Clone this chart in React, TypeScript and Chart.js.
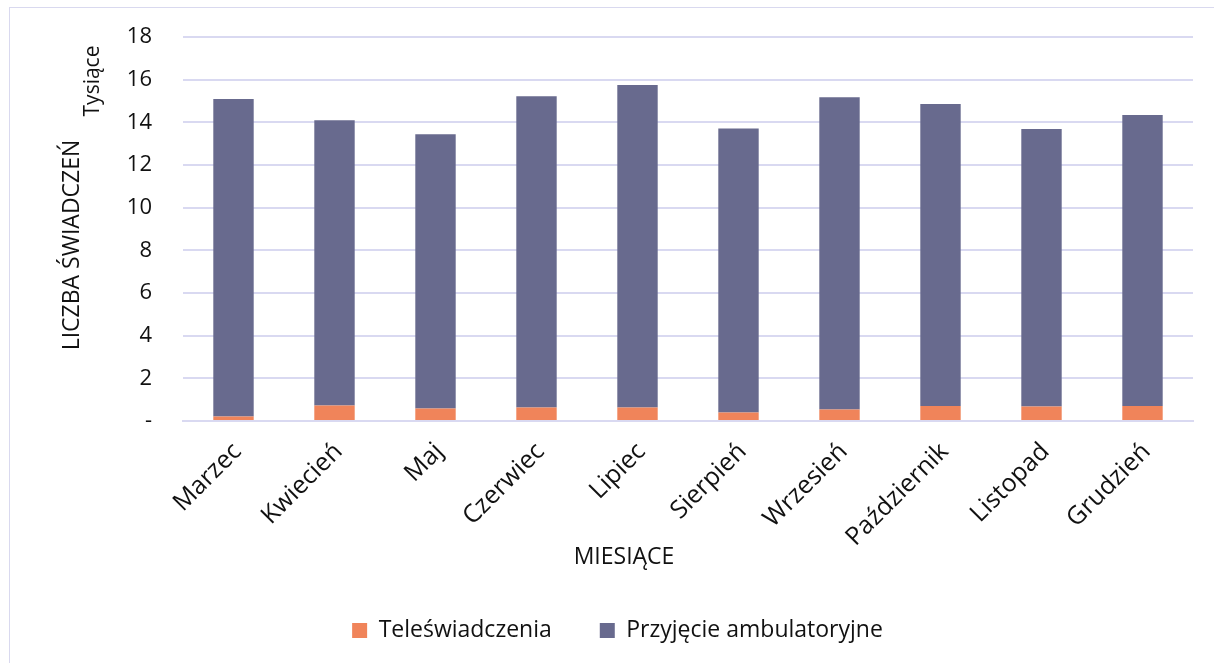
import React, { useEffect, useRef } from "react";
import { Chart, registerables } from "chart.js";

Chart.register(...registerables);

const months = [
  "Marzec",
  "Kwiecień",
  "Maj",
  "Czerwiec",
  "Lipiec",
  "Sierpień",
  "Wrzesień",
  "Październik",
  "Listopad",
  "Grudzień",
];

// values in thousands
const teleswiadczenia = [0.21, 0.73, 0.59, 0.63, 0.63, 0.4, 0.54, 0.7, 0.68, 0.7];
const przyjecieAmbulatoryjne = [14.89, 13.38, 12.86, 14.6, 15.13, 13.32, 14.64, 14.17, 13.01, 13.65];

const yMin = 0;
const yMax = 18;
const yStep = 2;
const zeroTickLabel = "-";

const FONT = '"Open Sans", sans-serif';
const TEXT = "#111111";
const GRID = "#d9d9f1";

const titlesPlugin = {
  id: "customTitles",
  afterDraw(chart: any) {
    const ctx = chart.ctx;
    ctx.save();
    ctx.fillStyle = TEXT;
    ctx.textAlign = "center";
    ctx.textBaseline = "middle";
    ctx.font = `23px ${FONT}`;
    ctx.fillText("MIESIĄCE", 614, 549);
    ctx.save();
    ctx.translate(62, 237);
    ctx.rotate(-Math.PI / 2);
    ctx.fillText("LICZBA ŚWIADCZEŃ", 0, 0);
    ctx.restore();
    ctx.font = `21px ${FONT}`;
    ctx.save();
    ctx.translate(83, 73);
    ctx.rotate(-Math.PI / 2);
    ctx.fillText("Tysiące", 0, 0);
    ctx.restore();
    ctx.restore();
  },
};

export default function App() {
  const ref = useRef<HTMLCanvasElement | null>(null);

  useEffect(() => {
    if (!ref.current) return;
    const chart = new Chart(ref.current, {
      type: "bar",
      data: {
        labels: months,
        datasets: [
          {
            label: "Teleświadczenia",
            data: teleswiadczenia,
            backgroundColor: "#f0845a",
            barPercentage: 0.4,
            categoryPercentage: 1,
          },
          {
            label: "Przyjęcie ambulatoryjne",
            data: przyjecieAmbulatoryjne,
            backgroundColor: "#686a8e",
            barPercentage: 0.4,
            categoryPercentage: 1,
          },
        ],
      },
      options: {
        responsive: false,
        animation: false,
        layout: { padding: { left: 32, right: 21, top: 10, bottom: 12 } },
        plugins: {
          tooltip: { enabled: false },
          legend: {
            position: "bottom",
            labels: {
              boxWidth: 15,
              boxHeight: 15,
              padding: 48,
              color: TEXT,
              font: { family: FONT, size: 23 },
            },
          },
        },
        scales: {
          x: {
            stacked: true,
            grid: { display: false, drawTicks: false },
            border: { display: true, color: GRID, width: 2 },
            ticks: {
              color: TEXT,
              font: { family: FONT, size: 25 },
              maxRotation: 45,
              minRotation: 45,
              padding: 16,
              labelOffset: 4,
              autoSkip: false,
            },
            afterFit(scale: any) {
              scale.height = 150;
            },
          },
          y: {
            stacked: true,
            min: yMin,
            max: yMax,
            grid: {
              color: GRID,
              lineWidth: 2,
              drawTicks: true,
              tickLength: 15,
              tickColor: "rgba(0,0,0,0)",
            },
            border: { display: false },
            ticks: {
              stepSize: yStep,
              color: TEXT,
              font: { family: FONT, size: 22 },
              padding: 16,
              callback: (v: any) => (Number(v) === 0 ? zeroTickLabel : String(v)),
            },
            afterFit(scale: any) {
              scale.width = 141;
            },
          },
        },
      },
      plugins: [titlesPlugin],
    });
    return () => chart.destroy();
  }, []);

  return (
    <div
      style={{
        position: "absolute",
        left: 9,
        top: 7,
        width: 1205,
        height: 656,
        borderLeft: "1px solid #d9d9ef",
        borderTop: "1px solid #d9d9ef",
        overflow: "hidden",
        background: "#fff",
      }}
    >
      <canvas ref={ref} width={1204} height={656} style={{ display: "block" }} />
    </div>
  );
}
